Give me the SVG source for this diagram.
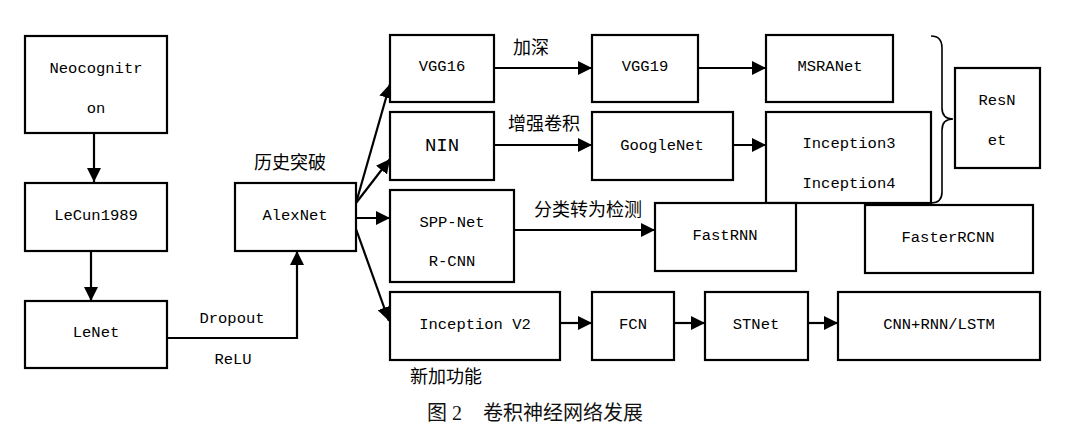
<svg xmlns="http://www.w3.org/2000/svg" width="1068" height="433" viewBox="0 0 1068 433">
<style>
.box{fill:#fff;stroke:#000;stroke-width:2.2}
.t{font-family:"Liberation Mono","DejaVu Sans Mono",monospace;font-size:15.5px;fill:#000;text-anchor:middle}
.big{font-size:19px}
.cn{font-family:"Noto Sans CJK SC",sans-serif;font-size:18px;fill:#000;text-anchor:middle}
.cap{font-family:"Liberation Serif","Noto Sans CJK SC",serif;font-size:20px;fill:#111}
.ln{fill:none;stroke:#000;stroke-width:2.2}
.ar{marker-end:url(#ah)}
</style>
<defs>
<marker id="ah" viewBox="0 0 14 14" refX="14" refY="7" markerWidth="14" markerHeight="14" markerUnits="userSpaceOnUse" orient="auto">
<path d="M0,0 L14,7 L0,14 z" fill="#000"/>
</marker>
</defs>
<rect width="1068" height="433" fill="#fff"/>
<g id="connectors">
<line class="ln ar" x1="94" y1="134" x2="94" y2="182"/>
<line class="ln ar" x1="91" y1="252" x2="91" y2="301"/>
<polyline class="ln ar" points="166,338 297,338 297,251"/>
<line class="ln ar" x1="356" y1="203" x2="390" y2="84"/>
<line class="ln ar" x1="356" y1="203" x2="390" y2="159"/>
<line class="ln ar" x1="356" y1="218" x2="390" y2="218"/>
<line class="ln ar" x1="356" y1="229" x2="389" y2="321"/>
<line class="ln ar" x1="494" y1="68" x2="592" y2="68"/>
<line class="ln ar" x1="494" y1="145" x2="592" y2="145"/>
<line class="ln ar" x1="698" y1="68" x2="766" y2="68"/>
<line class="ln ar" x1="733" y1="145" x2="766" y2="145"/>
<line class="ln ar" x1="514" y1="230" x2="655" y2="230"/>
<line class="ln ar" x1="560" y1="323" x2="592" y2="323"/>
<line class="ln ar" x1="674" y1="323" x2="705" y2="323"/>
<line class="ln ar" x1="808" y1="323" x2="838" y2="323"/>
<path d="M931,36 Q942,36 942,48 L942,108 Q942,119 953,119 Q942,119 942,130 L942,192 Q942,203 931,203" fill="none" stroke="#000" stroke-width="1.6"/>
</g>
<g id="neocognitron"><rect class="box" x="25" y="36" width="142" height="97"/><text class="t" x="96" y="73">Neocognitr</text><text class="t" x="96" y="113">on</text></g>
<g id="lecun1989"><rect class="box" x="25" y="183" width="142" height="68"/><text class="t" x="96" y="220">LeCun1989</text></g>
<g id="lenet"><rect class="box" x="25" y="301" width="142" height="67"/><text class="t" x="96" y="337">LeNet</text></g>
<g id="alexnet"><rect class="box" x="235" y="183" width="121" height="68"/><text class="t" x="295" y="220">AlexNet</text></g>
<g id="vgg16"><rect class="box" x="390" y="35" width="104" height="67"/><text class="t" x="442" y="71">VGG16</text></g>
<g id="vgg19"><rect class="box" x="592" y="35" width="106" height="67"/><text class="t" x="645" y="71">VGG19</text></g>
<g id="msranet"><rect class="box" x="766" y="35" width="127" height="67"/><text class="t" x="830" y="71">MSRANet</text></g>
<g id="nin"><rect class="box" x="390" y="112" width="104" height="68"/><text class="t big" x="442" y="151">NIN</text></g>
<g id="googlenet"><rect class="box" x="592" y="112" width="141" height="68"/><text class="t" x="662" y="150">GoogleNet</text></g>
<g id="inception34"><rect class="box" x="766" y="112" width="165" height="91"/><text class="t" x="849" y="148">Inception3</text><text class="t" x="849" y="188">Inception4</text></g>
<g id="resnet"><rect class="box" x="955" y="68" width="85" height="100"/><text class="t" x="997" y="105">ResN</text><text class="t" x="997" y="145">et</text></g>
<g id="sppnet"><rect class="box" x="390" y="190" width="124" height="92"/><text class="t" x="452" y="227">SPP-Net</text><text class="t" x="452" y="266">R-CNN</text></g>
<g id="fastrnn"><rect class="box" x="655" y="203" width="141" height="68"/><text class="t" x="725" y="240">FastRNN</text></g>
<g id="fasterrcnn"><rect class="box" x="865" y="205" width="168" height="68"/><text class="t" x="948" y="242">FasterRCNN</text></g>
<g id="inceptionv2"><rect class="box" x="390" y="292" width="170" height="68"/><text class="t" x="475" y="329">Inception V2</text></g>
<g id="fcn"><rect class="box" x="592" y="292" width="82" height="68"/><text class="t" x="633" y="329">FCN</text></g>
<g id="stnet"><rect class="box" x="705" y="292" width="103" height="68"/><text class="t" x="756" y="329">STNet</text></g>
<g id="cnnrnn"><rect class="box" x="838" y="292" width="202" height="68"/><text class="t" x="939" y="329">CNN+RNN/LSTM</text></g>
<g id="labels">
<text class="cn" x="290" y="169">历史突破</text>
<text class="t" x="232" y="323">Dropout</text>
<text class="t" x="233" y="364">ReLU</text>
<text class="cn" x="531" y="54">加深</text>
<text class="cn" x="544" y="130">增强卷积</text>
<text class="cn" x="588" y="216">分类转为检测</text>
<text class="cn" x="446" y="383">新加功能</text>
<text class="cap" x="427" y="420">图 2</text>
<text class="cap" x="483" y="420">卷积神经网络发展</text>
</g>
</svg>
